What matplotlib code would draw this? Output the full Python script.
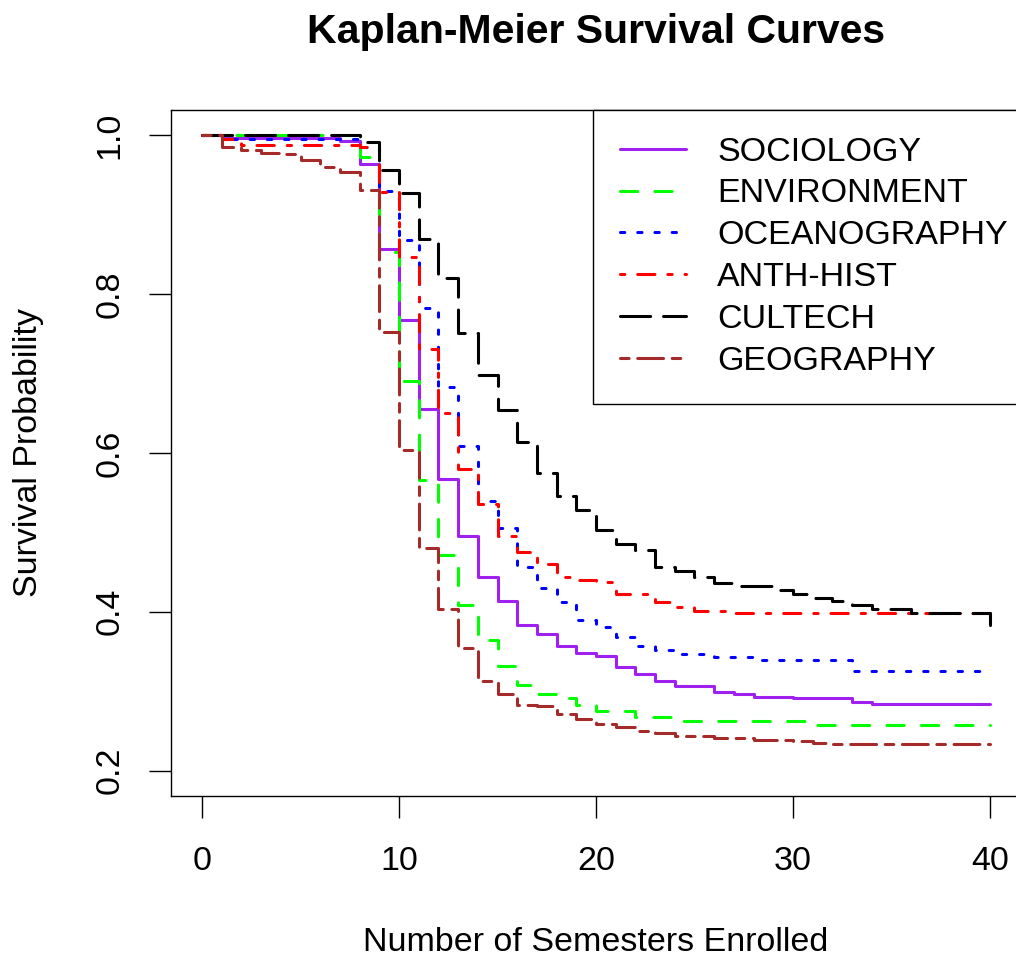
import matplotlib
matplotlib.use("Agg")
import matplotlib.pyplot as plt

# Kaplan-Meier estimates, one (time, survival) pair per step
groups = ["SOCIOLOGY", "ENVIRONMENT", "OCEANOGRAPHY", "ANTH-HIST", "CULTECH", "GEOGRAPHY"]

sociology_t = [0, 1, 7, 8, 9, 10, 11, 12, 13, 14, 15, 16, 17, 18, 19, 20, 21, 22, 23, 24, 26, 27, 28, 30, 33, 34, 40]
sociology_s = [1.0, 0.997, 0.993, 0.964, 0.857, 0.768, 0.655, 0.567, 0.495, 0.444, 0.413, 0.384, 0.372, 0.357,
               0.348, 0.344, 0.330, 0.322, 0.313, 0.306, 0.299, 0.297, 0.293, 0.291, 0.287, 0.284, 0.284]

environment_t = [0, 8, 9, 10, 11, 12, 13, 14, 15, 16, 17, 18, 19, 20, 22, 24, 31, 40]
environment_s = [1.0, 0.973, 0.853, 0.691, 0.566, 0.472, 0.408, 0.365, 0.332, 0.308, 0.297, 0.292, 0.282,
                 0.275, 0.267, 0.262, 0.258, 0.258]

oceanography_t = [0, 1, 8, 9, 10, 11, 12, 13, 14, 15, 16, 17, 18, 19, 20, 21, 22, 23, 24, 26, 28, 33, 40]
oceanography_s = [1.0, 0.996, 0.985, 0.93, 0.868, 0.782, 0.683, 0.609, 0.540, 0.505, 0.456, 0.430, 0.412,
                  0.390, 0.381, 0.368, 0.357, 0.352, 0.347, 0.343, 0.339, 0.325, 0.325]

anth_hist_t = [0, 1, 2, 8, 9, 10, 11, 12, 13, 14, 15, 16, 17, 18, 19, 20, 21, 23, 24, 25, 27, 40]
anth_hist_s = [1.0, 0.995, 0.988, 0.985, 0.929, 0.847, 0.731, 0.651, 0.580, 0.536, 0.496, 0.475, 0.460, 0.444,
               0.440, 0.437, 0.423, 0.412, 0.406, 0.401, 0.399, 0.399]

cultech_t = [0, 8, 9, 10, 11, 12, 13, 14, 15, 16, 17, 18, 19, 20, 21, 22, 23, 24, 25, 26, 27, 29, 30, 31, 32,
             33, 34, 36, 40]
cultech_s = [1.0, 0.992, 0.956, 0.927, 0.870, 0.820, 0.751, 0.698, 0.654, 0.614, 0.575, 0.546, 0.528, 0.503,
             0.486, 0.478, 0.457, 0.451, 0.444, 0.436, 0.432, 0.428, 0.423, 0.418, 0.413, 0.409, 0.404, 0.399,
             0.384]

geography_t = [0, 1, 2, 3, 4, 5, 6, 7, 8, 9, 10, 11, 12, 13, 14, 15, 16, 17, 18, 19, 20, 21, 22, 23, 24, 26,
               28, 30, 31, 32, 40]
geography_s = [1.0, 0.985, 0.981, 0.978, 0.976, 0.969, 0.960, 0.954, 0.931, 0.753, 0.604, 0.480, 0.404, 0.355,
               0.313, 0.297, 0.283, 0.281, 0.271, 0.265, 0.259, 0.255, 0.250, 0.247, 0.244, 0.241, 0.239, 0.237,
               0.235, 0.233, 0.233]

x_ticks = [0, 10, 20, 30, 40]
y_ticks = [0.2, 0.4, 0.6, 0.8, 1.0]

# R-style line types, dash unit in points
U = 3.1
colors = ["#A020F0", "#00FF00", "#0000FF", "#FF0000", "#000000", "#A52A2A"]
linestyles = [
    "-",
    (0, (4 * U, 4 * U)),
    (0, (1 * U, 3 * U)),
    (0, (1 * U, 3 * U, 4 * U, 3 * U)),
    (0, (7 * U, 3 * U)),
    (0, (2 * U, 2 * U, 6 * U, 2 * U)),
]

plt.rcParams["font.family"] = ["Liberation Sans", "DejaVu Sans"]
plt.rcParams["lines.scale_dashes"] = False

W, H = 1016, 956
fig = plt.figure(figsize=(W / 100, H / 100), dpi=100)
left, right, top, bottom = 170.5, 1021.5, 110, 796
ax = fig.add_axes([left / W, (H - bottom) / H, (right - left) / W, (bottom - top) / H])

series = [
    (sociology_t, sociology_s),
    (environment_t, environment_s),
    (oceanography_t, oceanography_s),
    (anth_hist_t, anth_hist_s),
    (cultech_t, cultech_s),
    (geography_t, geography_s),
]
for (t, s), name, color, ls in zip(series, groups, colors, linestyles):
    ax.step(t, s, where="post", color=color, linestyle=ls, linewidth=2.2, label=name,
            dash_capstyle="round", solid_capstyle="round", dash_joinstyle="round",
            solid_joinstyle="round")

ax.set_xlim(-1.6, 41.6)
ax.set_ylim(0.168, 1.032)
ax.set_xticks(x_ticks)
ax.set_xticklabels([str(v) for v in x_ticks])
ax.set_yticks(y_ticks)
ax.set_yticklabels([f"{v:.1f}" for v in y_ticks], rotation=90, va="center")
ax.tick_params(axis="both", length=15.8, width=1.0, color="black", labelsize=24.5)
ax.tick_params(axis="x", pad=20)
ax.tick_params(axis="y", pad=16.5)
for spine in ax.spines.values():
    spine.set_linewidth(1.0)
    spine.set_color("black")

leg = ax.legend(loc="upper left", bbox_to_anchor=((593 - left) / (right - left), 1.0),
                borderaxespad=0, fontsize=24.5, handlelength=1.95, handletextpad=0.92,
                labelspacing=0.32, borderpad=0.78, fancybox=False, framealpha=1)
leg.get_frame().set_edgecolor("black")
leg.get_frame().set_linewidth(1.0)

fig.text(596 / W, (H - 43) / H, "Kaplan-Meier Survival Curves", ha="center", va="baseline",
         fontsize=29.5, fontweight="bold")
fig.text(596 / W, (H - 951) / H, "Number of Semesters Enrolled", ha="center", va="baseline",
         fontsize=24.5)
fig.text(13 / W, (H - 453) / H, "Survival Probability", ha="left", va="center", rotation=90,
         fontsize=24.5)

fig.savefig("out.png", dpi=100)
